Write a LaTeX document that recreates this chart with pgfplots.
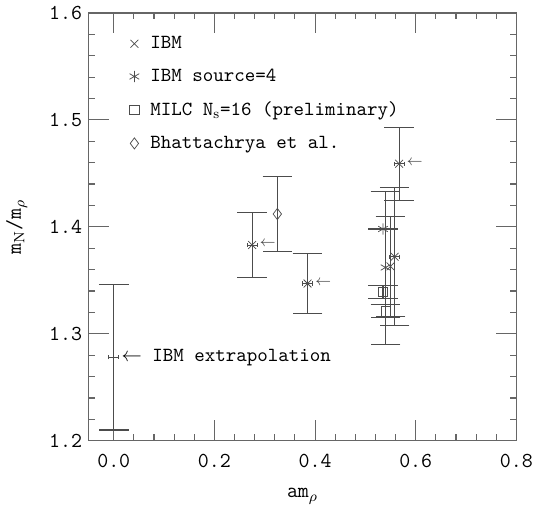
\documentclass[border=0pt]{standalone}
\usepackage{fontspec}
\renewcommand{\familydefault}{\ttdefault}
\usepackage{pgfplots}
\pgfplotsset{compat=1.18}
\definecolor{axgray}{gray}{0.4}
\begin{document}
\begin{tikzpicture}
\begin{axis}[
  scale only axis,
  width=231pt, height=231pt,
  xmin=-0.05, xmax=0.8, ymin=1.2, ymax=1.6,
  xtick={0,0.2,0.4,0.6,0.8},
  ytick={1.2,1.3,1.4,1.5,1.6},
  minor x tick num=4, minor y tick num=4,
  xticklabels={0.0,0.2,0.4,0.6,0.8},
  yticklabels={1.2,1.3,1.4,1.5,1.6},
  tick align=inside,
  major tick length=11pt, minor tick length=3.5pt,
  axis line style={axgray, line width=0.7pt},
  every tick/.style={axgray, line width=0.6pt},
  /pgf/number format/assume math mode=true,
  xlabel={am$_\rho$}, ylabel={m$_\mathrm{N}$/m$_\rho$},
  ylabel shift=5pt,
  xlabel shift=4pt,
  xticklabel style={yshift=-4pt},
  tick label style={font=\fontsize{11.5}{12}\selectfont},
  label style={font=\fontsize{11.5}{12}\selectfont},
  legend style={draw=none, fill=none, at={(0.095,0.955)}, anchor=north west,
    font=\fontsize{10.8}{12}\selectfont, row sep=5.5pt, inner sep=0pt,
    /tikz/every odd column/.append style={column sep=4pt}},
  legend cell align=left,
  legend image code/.code={\draw[#1] plot coordinates {(0.15cm,0cm)};},
  error bars/error bar style={line width=0.6pt, black!70},
  error bars/error mark options={rotate=90, mark size=8pt, line width=0.6pt, black!70},
]
% IBM
\addplot[only marks, mark=x, mark size=3pt, black!70,
  error bars/.cd, y dir=both, y explicit]
  table[x=x, y=y, y error plus=ep, y error minus=em] {
  x      y      ep     em
  0.275  1.383  0.030  0.030
  0.385  1.347  0.028  0.028
  0.567  1.459  0.034  0.034
  0.550  1.363  0.047  0.047
  0.558  1.372  0.065  0.0645
  };
\addlegendentry{IBM}
% IBM source=4
\addplot[only marks, mark=asterisk, mark size=3pt, black!70,
  error bars/.cd, y dir=both, y explicit]
  table[x=x, y=y, y error plus=ep, y error minus=em] {
  x      y      ep     em
  0.535  1.398  0.0    0.0
  0.540  1.362  0.071  0.072
  };
\addlegendentry{IBM source=4}
% MILC
\addplot[only marks, mark=square, mark size=2.5pt, black!70,
  error bars/.cd, y dir=both, y explicit]
  table[x=x, y=y, y error plus=ep, y error minus=em] {
  x      y      ep     em
  0.535  1.339  0.006  0.006
  0.540  1.321  0.006  0.006
  };
\addlegendentry{MILC N$_\mathrm{s}$=16 (preliminary)}
% Bhattachrya
\addplot[only marks, mark=diamond, mark size=3pt, black!70,
  error bars/.cd, y dir=both, y explicit]
  table[x=x, y=y, y error plus=ep, y error minus=em] {
  x      y      ep     em
  0.325  1.412  0.035  0.035
  };
\addlegendentry{Bhattachrya et al.}
% IBM extrapolation
\addplot[only marks, mark=+, mark size=2pt, black!70, forget plot,
  error bars/.cd, y dir=both, y explicit]
  table[x=x, y=y, y error plus=ep, y error minus=em] {
  x      y      ep     em
  0.0    1.278  0.068  0.068
  };
% horizontal error bars (small caps)
\addplot[draw=none, mark=none, forget plot,
  error bars/.cd, x dir=both, x explicit,
  error bar style={line width=0.4pt, black!70},
  error mark options={rotate=90, mark size=1.1pt, line width=0.4pt, black!70}]
  table[x=x, y=y, x error=ex] {
  x      y      ex
  0.275  1.383  0.010
  0.385  1.347  0.010
  0.567  1.459  0.010
  0.558  1.372  0.010
  0.0    1.278  0.010
  };
% arrows
\addplot[draw=none, mark=none, forget plot,
  nodes near coords={$\leftarrow$},
  every node near coord/.style={anchor=west, xshift=4pt, yshift=0.5pt, black!75,
    inner sep=0pt, font=\footnotesize}]
  table[x=x, y=y] {
  x      y
  0.275  1.383
  0.385  1.347
  0.567  1.459
  };
\addplot[draw=none, mark=none, forget plot,
  nodes near coords={$\leftarrow$ IBM extrapolation},
  every node near coord/.style={anchor=west, xshift=4pt, inner sep=0pt, black,
    font=\fontsize{10.8}{12}\selectfont}]
  table[x=x, y=y] {
  x      y
  0.0    1.278
  };
\end{axis}
\end{tikzpicture}
\end{document}
